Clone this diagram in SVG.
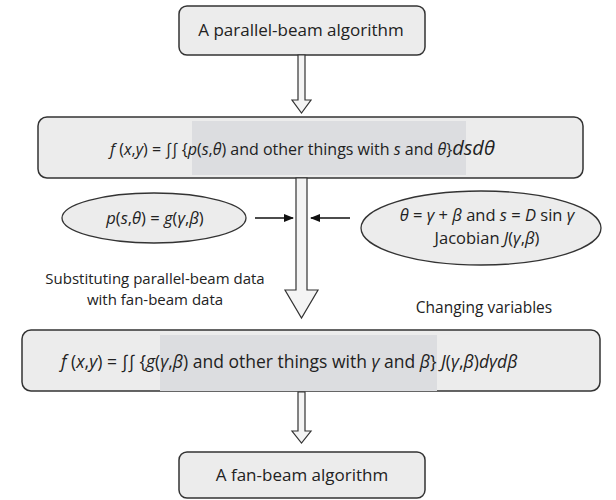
<svg xmlns="http://www.w3.org/2000/svg" width="616" height="500" viewBox="0 0 616 500">
<style>
.box{fill:#ececec;stroke:#333;stroke-width:1.5}
.hl{fill:#dcdde0}
.ell{fill:#ececec;stroke:#333;stroke-width:1.3}
.t{font-family:"Open Sans","Noto Sans",sans-serif;fill:#222}
.i{font-style:italic}
.arr{fill:#f4f4f4;stroke:#333;stroke-width:1.2}
.ln{stroke:#111;stroke-width:1.5;fill:none}
</style>
<defs>
<marker id="ah" markerWidth="10" markerHeight="8" refX="9" refY="4" orient="auto" markerUnits="userSpaceOnUse">
<path d="M0,0 L10,4 L0,8 Z" fill="#111"/>
</marker>
</defs>
<g id="n1">
<rect class="box" x="179" y="6" width="246" height="49" rx="8"/>
<text class="t" x="301" y="36" font-size="17" text-anchor="middle">A parallel-beam algorithm</text>
</g>
<g id="n2">
<rect class="box" x="38" y="117" width="545" height="61" rx="9"/>
<rect class="hl" x="192" y="121" width="274" height="54"/>
<text class="t" x="110" y="155" font-size="16"><tspan class="i">f</tspan> (<tspan class="i">x</tspan>,<tspan class="i">y</tspan>) = ∫∫ {<tspan class="i">p</tspan>(<tspan class="i">s</tspan>,<tspan class="i">θ</tspan>) and other things with <tspan class="i">s</tspan> and <tspan class="i">θ</tspan>}<tspan class="i" font-size="20">dsdθ</tspan></text>
</g>
<g id="n3">
<ellipse class="ell" cx="154" cy="218" rx="92" ry="25"/>
<text class="t" x="155" y="224" font-size="16.5" text-anchor="middle"><tspan class="i">p</tspan>(<tspan class="i">s</tspan>,<tspan class="i">θ</tspan>) = <tspan class="i">g</tspan>(<tspan class="i">γ</tspan>,<tspan class="i">β</tspan>)</text>
</g>
<g id="n4">
<ellipse class="ell" cx="481" cy="228" rx="120" ry="37"/>
<text class="t" x="487" y="221" font-size="16.5" text-anchor="middle"><tspan class="i">θ</tspan> = <tspan class="i">γ</tspan> + <tspan class="i">β</tspan> and <tspan class="i">s</tspan> = <tspan class="i">D</tspan> sin <tspan class="i">γ</tspan></text>
<text class="t" x="487" y="244" font-size="16.5" text-anchor="middle">Jacobian <tspan class="i">J</tspan>(<tspan class="i">γ</tspan>,<tspan class="i">β</tspan>)</text>
</g>
<g id="n5">
<rect class="box" x="22" y="330" width="578" height="61" rx="9"/>
<rect class="hl" x="160" y="335" width="277" height="56"/>
<text class="t" x="61" y="368" font-size="17.5"><tspan class="i">f</tspan> (<tspan class="i">x</tspan>,<tspan class="i">y</tspan>) = ∫∫ {<tspan class="i">g</tspan>(<tspan class="i">γ</tspan>,<tspan class="i">β</tspan>) and other things with <tspan class="i">γ</tspan> and <tspan class="i">β</tspan>} <tspan class="i">J</tspan>(<tspan class="i">γ</tspan>,<tspan class="i">β</tspan>)<tspan class="i">dγdβ</tspan></text>
</g>
<g id="n6">
<rect class="box" x="179" y="452" width="246" height="46" rx="8"/>
<text class="t" x="302" y="481" font-size="17" text-anchor="middle">A fan-beam algorithm</text>
</g>
<g id="labels">
<text class="t" x="155" y="284" font-size="15" text-anchor="middle">Substituting parallel-beam data</text>
<text class="t" x="155" y="304.5" font-size="15" text-anchor="middle">with fan-beam data</text>
<text class="t" x="484" y="313" font-size="15.5" text-anchor="middle">Changing variables</text>
</g>
<g id="connectors">
<path class="arr" d="M298,55 L305,55 L305,100 L311,100 L301.5,113 L292,100 L298,100 Z"/>
<path class="arr" d="M296,178 L307,178 L307,290 L318,290 L301.5,318 L285,290 L296,290 Z"/>
<path class="arr" d="M298,392 L305,392 L305,431 L311,431 L301.5,443 L292,431 L298,431 Z"/>
<line class="ln" x1="255" y1="218" x2="293" y2="218" marker-end="url(#ah)"/>
<line class="ln" x1="350" y1="218" x2="311" y2="218" marker-end="url(#ah)"/>
</g>
</svg>
